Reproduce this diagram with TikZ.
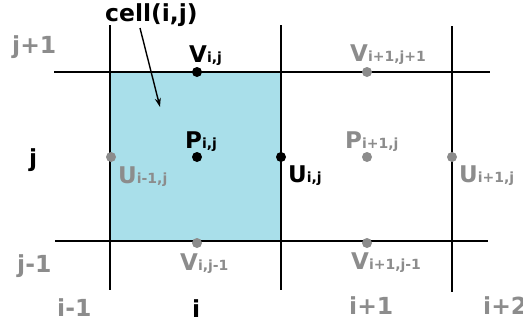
\documentclass[tikz,border=0pt]{standalone}
\usepackage{fontspec}
\setmainfont{DejaVu Sans}
\usetikzlibrary{calc}
\usetikzlibrary{arrows.meta}
\definecolor{cellblue}{RGB}{169,223,234}
\definecolor{ghost}{RGB}{140,140,140}
\newcommand{\fv}[2]{{\fontsize{23}{23}\selectfont #1}{\fontsize{14}{14}\selectfont #2}}

\begin{document}
\begin{tikzpicture}[x=1pt,y=-1pt,inner sep=0pt,font=\bfseries\fontsize{23.5}{23.5}\selectfont,
  dot/.style={circle,fill,minimum size=10pt},
  gridline/.style={line width=2pt},
  lbl/.style={anchor=base west}]
\useasboundingbox (0,0) rectangle (523,327);
% grid corners
\coordinate (c11) at (110,72);
\coordinate (c22) at (281,241);
\fill[cellblue] (c11) rectangle (c22);
\coordinate (h1a) at (54,72);  \coordinate (h1b) at (490,72);
\coordinate (h0a) at (55,241); \coordinate (h0b) at (488,241);
\coordinate (v0a) at (110,25); \coordinate (v0b) at (110,290);
\coordinate (v1a) at (281,25); \coordinate (v1b) at (281,290);
\coordinate (v2a) at (452,26); \coordinate (v2b) at (452,292);
\draw[gridline] (h1a) -- (h1b);
\draw[gridline] (h0a) -- (h0b);
\draw[gridline] (v0a) -- (v0b);
\draw[gridline] (v1a) -- (v1b);
\draw[gridline] (v2a) -- (v2b);

% points of cell (i,j)
\node[dot] (vij) at (197,72) {};
\node[dot] (pij) at (197,157) {};
\node[dot] (uij) at (281,157) {};
% neighbours
\node[dot,ghost] (uim) at (111,157) {};
\node[dot,ghost] (vijm) at (197,243) {};
\node[dot,ghost] (vipjp) at (367,72) {};
\node[dot,ghost] (pip) at (367,157) {};
\node[dot,ghost] (uip) at (452,157) {};
\node[dot,ghost] (vipjm) at (367,243) {};

\node[lbl] (lvij) at (189,62) {\fv{V}{i,j}};
\node[lbl] (lpij) at (185,148) {\fv{P}{i,j}};
\node[lbl] (luij) at (288,182) {\fv{U}{i,j}};
\node[lbl,ghost] (luim) at (118,183) {\fv{U}{i-1,j}};
\node[lbl,ghost] (lvijm) at (180,270) {\fv{V}{i,j-1}};
\node[lbl,ghost] (lvipjp) at (350,61) {\fv{V}{i+1,j+1}};
\node[lbl,ghost] (lpip) at (345,148) {\fv{P}{i+1,j}};
\node[lbl,ghost] (luip) at (459,182) {\fv{U}{i+1,j}};
\node[lbl,ghost] (lvipjm) at (351,269) {\fv{V}{i+1,j-1}};

% indices
\node[lbl,ghost] (jp) at (12,53) {j+1};
\node[lbl] (j0) at (29,166) {j};
\node[lbl,ghost] (jm) at (17,272) {j-1};
\node[lbl,ghost] (im) at (57,316) {i-1};
\node[lbl] (i0) at (192,317) {i};
\node[lbl,ghost] (ip) at (349,314) {i+1};
\node[lbl,ghost] (ipp) at (483,314) {i+2};

\node[lbl] (cell) at (105,21) {cell(i,j)};
\coordinate (from) at (140,28);
\coordinate (into) at (160,107);
\draw[-{Stealth[length=9pt,width=6pt]},line width=1.4pt] (from) -- (into);
\end{tikzpicture}
\end{document}
